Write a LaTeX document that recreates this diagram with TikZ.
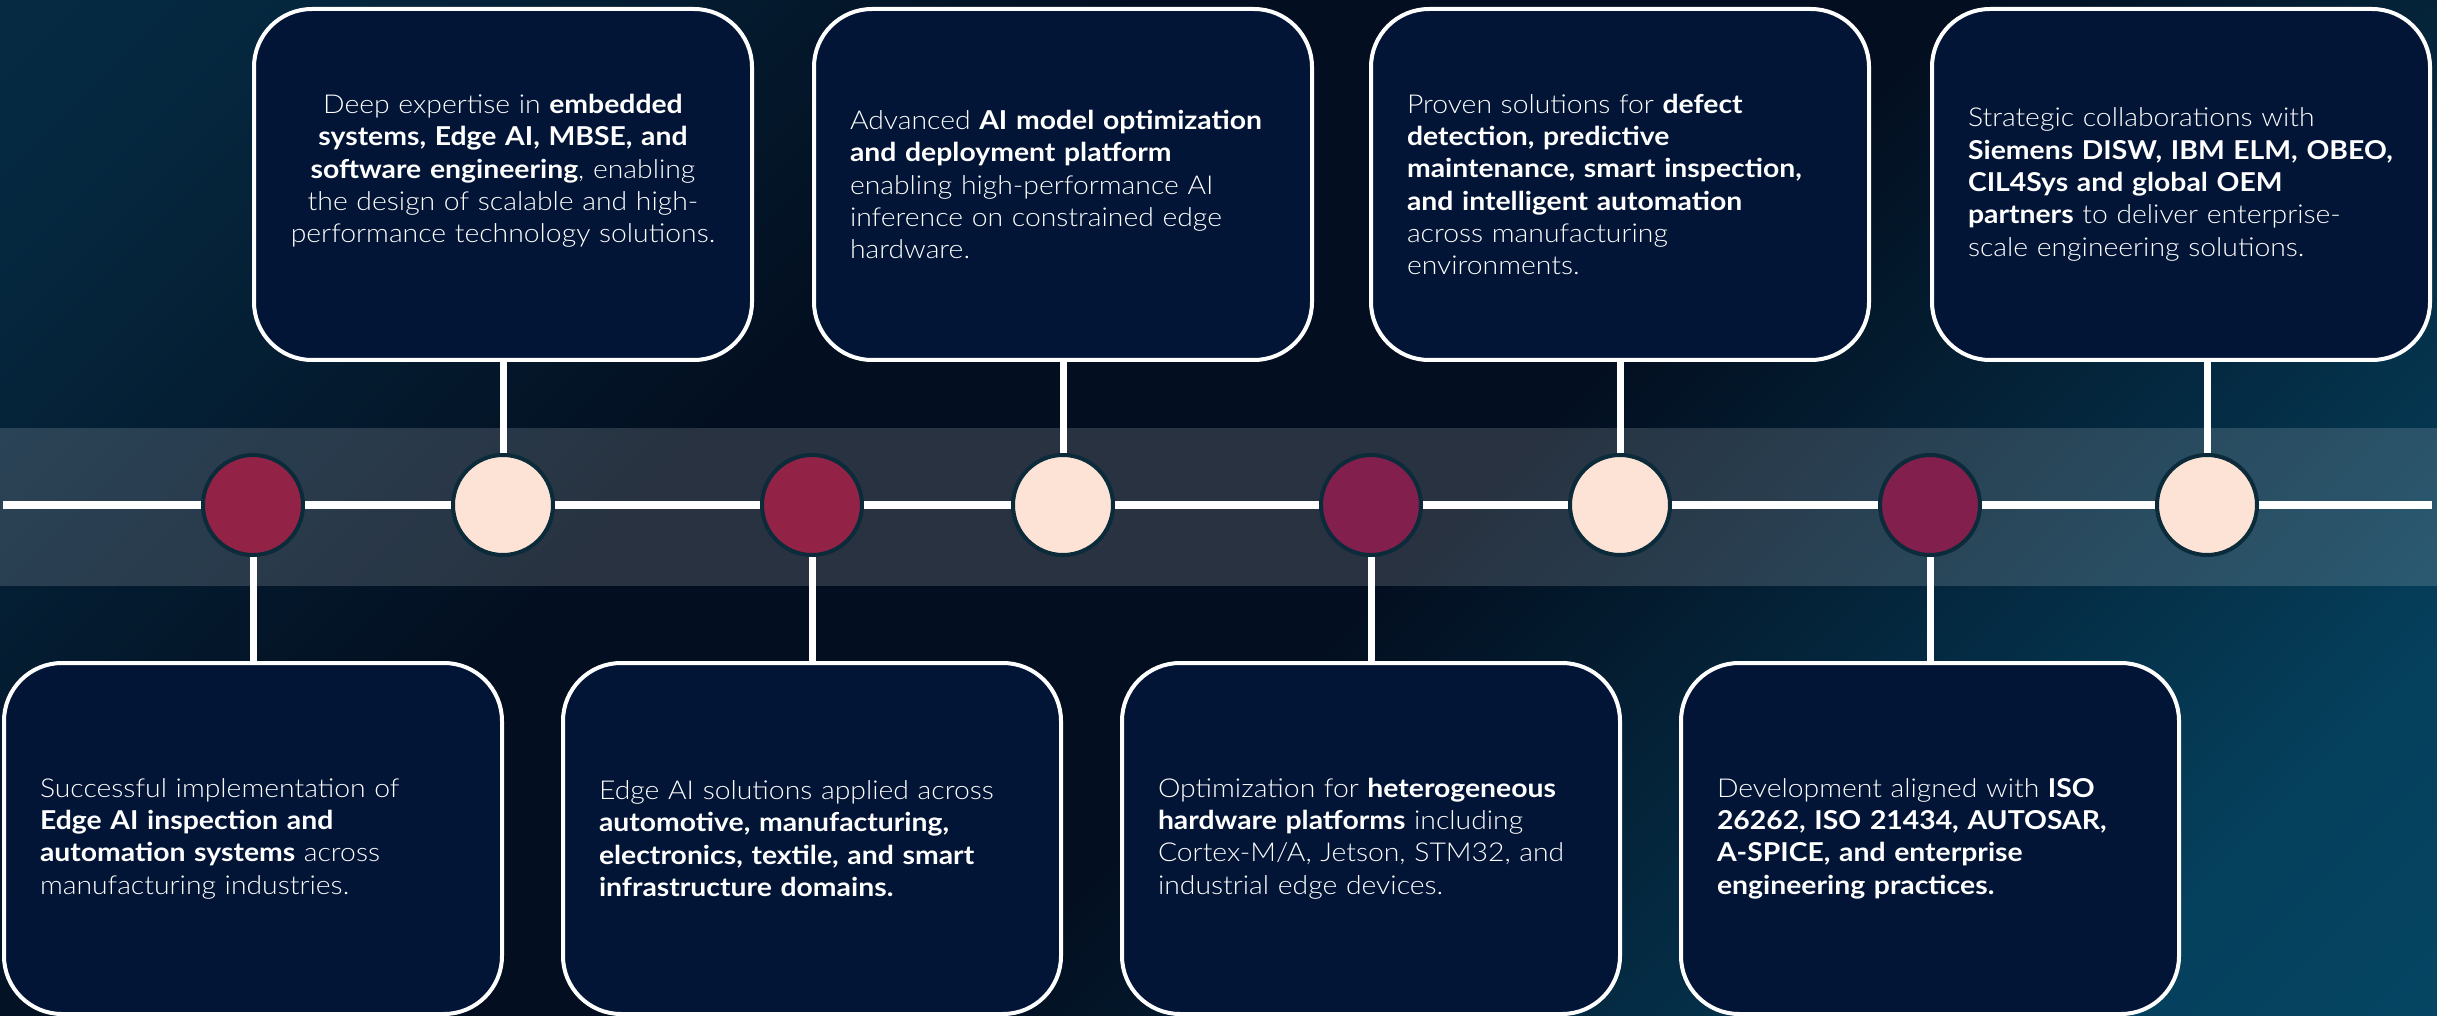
\documentclass[tikz,border=0pt]{standalone}
\usepackage{fontspec}
\setmainfont{Lato}[UprightFont=* Light, BoldFont=* Bold, FakeStretch=1.09]
\usepackage{tikz}
\usetikzlibrary{calc,positioning,backgrounds}
\definecolor{bgA}{HTML}{06324C}
\definecolor{bgB}{HTML}{030F20}
\definecolor{bgC}{HTML}{065070}
\definecolor{cardfill}{HTML}{021536}
\definecolor{ring}{HTML}{0B2A3A}
\definecolor{crimson}{HTML}{932346}
\definecolor{plum}{HTML}{831F4D}
\definecolor{peach}{HTML}{FCE3D6}
\pgfdeclareverticalshading{backdrop}{100bp}{color(0bp)=(bgC); color(22bp)=(bgC!75!bgB); color(45bp)=(bgB); color(62bp)=(bgB); color(80bp)=(bgA!70!bgB); color(100bp)=(bgA)}

\begin{document}
\begin{tikzpicture}[x=1pt,y=-1pt]

\tikzset{card/.style={draw=white,line width=4pt,fill=cardfill,rounded corners=58pt,minimum width=498pt,minimum height=351pt,inner xsep=36pt,inner ysep=0pt,text width=426pt,align=left,text=white,font=\fontsize{26}{32.3}\selectfont},
dot/.style={circle,draw=ring,line width=4pt,minimum size=100pt,inner sep=0pt},
stem/.style={draw=white,line width=7pt}}

% Background
\useasboundingbox (0,0) rectangle (2437,1016);
\shade[shading=backdrop,shading angle=45] (0,0) rectangle (2437,1016);
\fill[white,opacity=.15] (0,428) rectangle (2437,586); % band

% Timeline
\coordinate (lineL) at (3,505);
\coordinate (lineR) at (2432,505);
\draw[white,line width=8pt] (lineL) -- (lineR);

% Milestone nodes
\foreach \x/\c [count=\i] in {253/crimson,503/peach,812/crimson,1063/peach,1371/plum,1620/peach,1930/plum,2207/peach}
  \node[dot,fill=\c] (m\i) at (\x,505) {};

% Cards above the line
\node[card,align=center,above=91pt of m2] (c1) {Deep expertise in \textbf{embedded}\\ \textbf{systems, Edge AI, MBSE, and}\\ \textbf{software engineering}, enabling\\ the design of scalable and high-\\ performance technology solutions.\\ \mbox{}};
\node[card,above=91pt of m4] (c2) {Advanced \textbf{AI model optimization}\\ \textbf{and deployment platform}\\ enabling high-performance AI\\ inference on constrained edge\\ hardware.};
\node[card,above=91pt of m6] (c3) {Proven solutions for \textbf{defect}\\ \textbf{detection, predictive}\\ \textbf{maintenance, smart inspection,}\\ \textbf{and intelligent automation}\\ across manufacturing\\ environments.};
\node[card,above=91pt of m8,xshift=-26pt] (c4) {Strategic collaborations with\\ \textbf{Siemens DISW, IBM ELM, OBEO,}\\ \textbf{CIL4Sys and global OEM}\\ \textbf{partners} to deliver enterprise-\\ scale engineering solutions.};

% Cards below the line
\node[card,below=104pt of m1] (d1) {Successful implementation of\\ \textbf{Edge AI inspection and}\\ \textbf{automation systems} across\\ manufacturing industries.};
\node[card,below=104pt of m3] (d2) {Edge AI solutions applied across\\ \textbf{automotive, manufacturing,}\\ \textbf{electronics, textile, and smart}\\ \textbf{infrastructure domains.}};
\node[card,below=104pt of m5] (d3) {Optimization for \textbf{heterogeneous}\\ \textbf{hardware platforms} including\\ Cortex-M/A, Jetson, STM32, and\\ industrial edge devices.};
\node[card,below=104pt of m7] (d4) {Development aligned with \textbf{ISO}\\ \textbf{26262, ISO 21434, AUTOSAR,}\\ \textbf{A-SPICE, and enterprise}\\ \textbf{engineering practices.}};

% Edges
\draw[stem] (m2.north) -- (m2.north |- c1.south); \draw[stem] (m4.north) -- (m4.north |- c2.south); \draw[stem] (m6.north) -- (m6.north |- c3.south); \draw[stem] (m8.north) -- (m8.north |- c4.south);
\draw[stem] (m1.south) -- (m1.south |- d1.north); \draw[stem] (m3.south) -- (m3.south |- d2.north); \draw[stem] (m5.south) -- (m5.south |- d3.north); \draw[stem] (m7.south) -- (m7.south |- d4.north);

\end{tikzpicture}
\end{document}
